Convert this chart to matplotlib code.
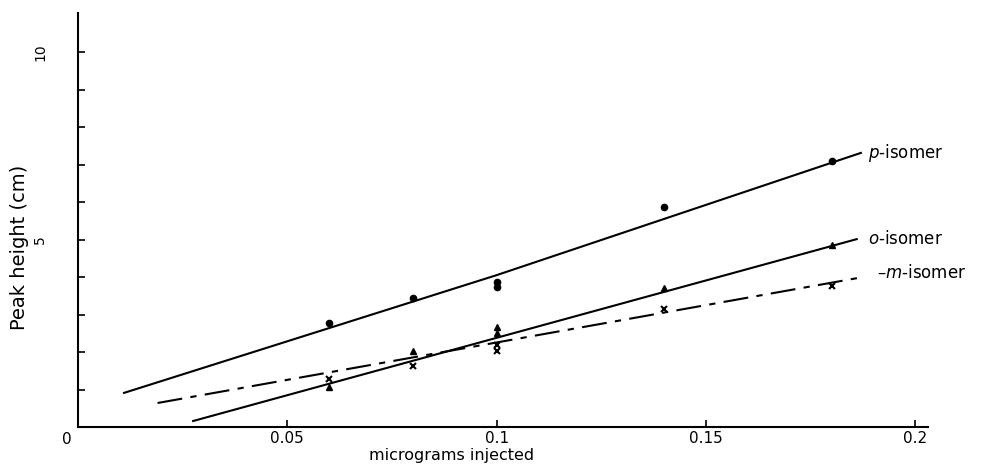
import matplotlib
matplotlib.use("Agg")
import matplotlib.pyplot as plt

## Datos
x_points = [0.06, 0.08, 0.10, 0.10, 0.14, 0.18]
p_values = [2.77, 3.44, 3.87, 3.73, 5.87, 7.10]
o_values = [1.07, 2.03, 2.67, 2.50, 3.71, 4.86]
m_values = [1.27, 1.62, 2.20, 2.02, 3.15, 3.75]

## Rectas dibujadas a mano (extremos)
p_line_x = [0.011, 0.10, 0.187]
p_line_y = [0.91, 4.05, 7.31]
o_line_x = [0.0275, 0.186]
o_line_y = [0.16, 5.01]
m_line_x = [0.019, 0.1876]
m_line_y = [0.64, 4.00]

labels = ["$p$-isomer", "$o$-isomer", "\u2013$m$-isomer"]
x_ticks = [0.05, 0.1, 0.15, 0.2]
x_tick_labels = ["0.05", "0.1", "0.15", "0.2"]
y_ticks = list(range(1, 11))

fig = plt.figure(figsize=(9.96, 4.65), dpi=100)
ax = fig.add_axes([0.0783, 0.0817, 0.8537, 0.8903])

ax.plot(p_line_x, p_line_y, color="black", lw=1.5)
ax.plot(o_line_x, o_line_y, color="black", lw=1.5)
ax.plot(m_line_x, m_line_y, color="black", lw=1.5, linestyle=(0, (12, 4, 3, 4)))

ax.plot(x_points, p_values, "o", color="black", ms=4.5, ls="none")
ax.plot(x_points, o_values, "^", color="black", ms=4.5, ls="none")
ax.plot(x_points, m_values, "x", color="black", ms=4.5, mew=1.5, ls="none")

ax.text(0.1888, 7.31, labels[0], fontsize=12, va="center", ha="left")
ax.text(0.1888, 5.01, labels[1], fontsize=12, va="center", ha="left")
ax.text(0.1909, 4.10, labels[2], fontsize=12, va="center", ha="left")

ax.set_xlim(0, 0.2031)
ax.set_ylim(0, 11.04)
ax.spines["top"].set_visible(False)
ax.spines["right"].set_visible(False)
ax.spines["left"].set_linewidth(1.5)
ax.spines["bottom"].set_linewidth(1.5)

ax.set_xticks(x_ticks)
ax.set_xticklabels(x_tick_labels, fontsize=11)
ax.set_yticks(y_ticks)
ax.set_yticklabels(["" if t not in (5, 10) else str(t) for t in y_ticks],
                   fontsize=10, rotation=90, va="center")
ax.tick_params(axis="both", direction="in", length=5, width=1.2)
ax.tick_params(axis="y", pad=22)
ax.tick_params(axis="x", pad=3)

ax.text(-0.0015, -0.12, "0", fontsize=11, ha="right", va="top")

ax.set_xlabel("micrograms injected", fontsize=11.5)
ax.xaxis.set_label_coords(0.439, -0.05)
ax.set_ylabel("Peak height (cm)", fontsize=14)
ax.yaxis.set_label_coords(-0.058, 0.435)

fig.savefig("out.png", dpi=100)
